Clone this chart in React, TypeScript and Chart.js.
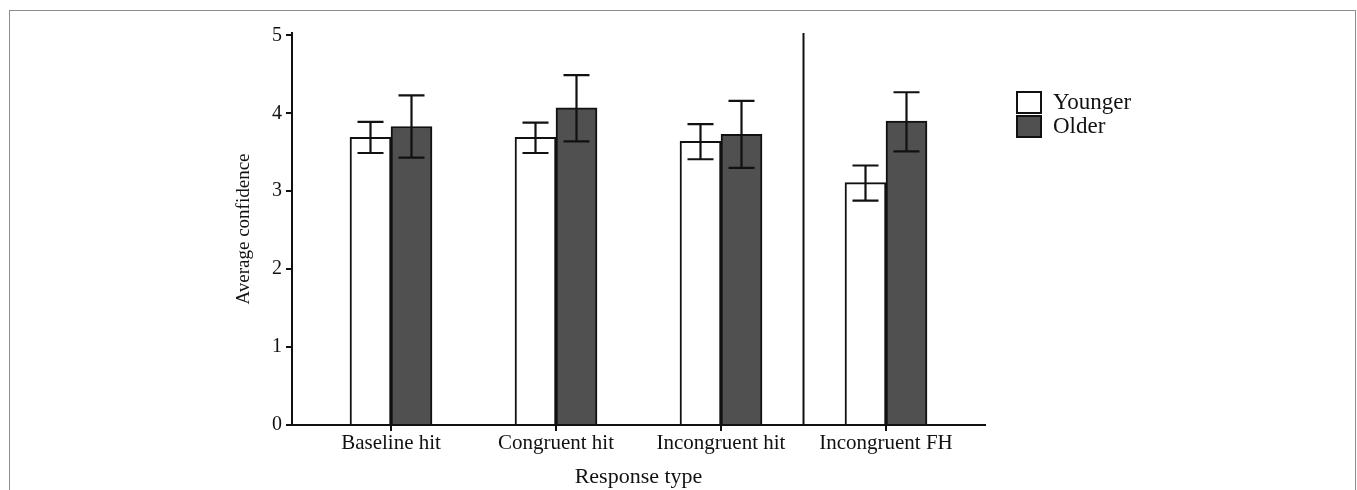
import React, { useEffect, useRef } from "react";
import { Chart, registerables } from "chart.js";

Chart.register(...registerables);

const categories = ["Baseline hit", "Congruent hit", "Incongruent hit", "Incongruent FH"];
const categoryPositions = [1, 2, 3, 4];
const youngerMeans = [3.69, 3.69, 3.64, 3.11];
const youngerLow = [3.49, 3.49, 3.41, 2.88];
const youngerHigh = [3.89, 3.88, 3.86, 3.33];
const olderMeans = [3.83, 4.07, 3.73, 3.90];
const olderLow = [3.43, 3.64, 3.30, 3.51];
const olderHigh = [4.23, 4.49, 4.16, 4.27];
const yTicks = [0, 1, 2, 3, 4, 5];
const separatorAfter = 3.5;
const seriesLabels = ["Younger", "Older"];

const FONT = '"Liberation Serif", "Times New Roman", serif';

const errorBarPlugin = {
  id: "errorBars",
  afterDatasetsDraw(chart: any) {
    const ctx = chart.ctx;
    const yScale = chart.scales.y;
    const lows = [youngerLow, olderLow];
    const highs = [youngerHigh, olderHigh];
    ctx.save();
    ctx.strokeStyle = "#111";
    ctx.lineWidth = 2.2;
    chart.data.datasets.forEach((_ds: any, di: number) => {
      const meta = chart.getDatasetMeta(di);
      meta.data.forEach((bar: any, i: number) => {
        const x = bar.x;
        const yl = yScale.getPixelForValue(lows[di][i]);
        const yh = yScale.getPixelForValue(highs[di][i]);
        const cap = 13;
        ctx.beginPath();
        ctx.moveTo(x, yl);
        ctx.lineTo(x, yh);
        ctx.moveTo(x - cap, yl);
        ctx.lineTo(x + cap, yl);
        ctx.moveTo(x - cap, yh);
        ctx.lineTo(x + cap, yh);
        ctx.stroke();
      });
    });
    const xs = chart.scales.x.getPixelForValue(separatorAfter);
    ctx.lineWidth = 2;
    ctx.beginPath();
    ctx.moveTo(xs, chart.chartArea.top);
    ctx.lineTo(xs, chart.chartArea.bottom);
    ctx.stroke();
    ctx.restore();
  },
};

const legendPlugin = {
  id: "customLegend",
  afterDraw(chart: any) {
    const ctx = chart.ctx;
    ctx.save();
    const left = 1017;
    const top = 92;
    const w = 24;
    const h = 21;
    const gap = 3;
    chart.data.datasets.forEach((ds: any, i: number) => {
      const y = top + i * (h + gap);
      ctx.fillStyle = ds.backgroundColor;
      ctx.fillRect(left, y, w, h);
      ctx.strokeStyle = "#111";
      ctx.lineWidth = 2;
      ctx.strokeRect(left, y, w, h);
      ctx.fillStyle = "#111";
      ctx.font = `23px ${FONT}`;
      ctx.textBaseline = "middle";
      ctx.textAlign = "left";
      ctx.fillText(ds.label, left + 36, y + h / 2);
    });
    ctx.restore();
  },
};

export default function App() {
  const ref = useRef<HTMLCanvasElement>(null);

  useEffect(() => {
    if (!ref.current) return;
    const chart = new Chart(ref.current, {
      type: "bar",
      data: {
        datasets: [
          {
            label: seriesLabels[0],
            data: categoryPositions.map((x, i) => ({ x, y: youngerMeans[i] })),
            backgroundColor: "#ffffff",
            borderColor: "#111",
            borderWidth: 2,
            barThickness: 41,
          },
          {
            label: seriesLabels[1],
            data: categoryPositions.map((x, i) => ({ x, y: olderMeans[i] })),
            backgroundColor: "#505050",
            borderColor: "#111",
            borderWidth: 2,
            barThickness: 41,
          },
        ],
      },
      options: {
        responsive: false,
        animation: false,
        layout: { padding: { left: 233, right: 372, top: 33, bottom: 0 } },
        plugins: {
          legend: { display: false },
          tooltip: { enabled: false },
        },
        scales: {
          x: {
            type: "linear",
            min: 0.4,
            max: 4.6,
            offset: false,
            afterBuildTicks(scale: any) {
              scale.ticks = categoryPositions.map((v) => ({ value: v }));
            },
            afterFit(scale: any) {
              scale.height = 65;
            },
            grid: {
              offset: false,
              drawOnChartArea: false,
              drawTicks: true,
              tickLength: 6,
              color: "#111",
              lineWidth: 2,
            },
            border: { display: true, color: "#111", width: 2 },
            ticks: {
              color: "#111",
              font: { family: FONT, size: 21 },
              padding: 0,
              maxRotation: 0,
              autoSkip: false,
              callback: (v: any) => {
                const idx = categoryPositions.indexOf(Number(v));
                return idx >= 0 ? categories[idx] : "";
              },
            },
            title: {
              display: true,
              text: "Response type",
              color: "#111",
              font: { family: FONT, size: 22 },
              padding: { top: 6, bottom: 0 },
            },
          },
          y: {
            min: 0,
            max: 5.03,
            afterBuildTicks(scale: any) {
              scale.ticks = yTicks.map((v) => ({ value: v }));
            },
            afterFit(scale: any) {
              scale.width = 59;
            },
            grid: {
              drawOnChartArea: false,
              drawTicks: true,
              tickLength: 6,
              color: "#111",
              lineWidth: 2,
            },
            border: { display: true, color: "#111", width: 2 },
            ticks: {
              color: "#111",
              font: { family: FONT, size: 20 },
              padding: 4,
            },
            title: {
              display: true,
              text: "Average confidence",
              color: "#111",
              font: { family: FONT, size: 19 },
              padding: { top: 0, bottom: 4 },
            },
          },
        },
      },
      plugins: [errorBarPlugin, legendPlugin],
    });
    return () => chart.destroy();
  }, []);

  return (
    <div style={{ position: "absolute", left: 0, top: 0, width: 1357, height: 490, overflow: "hidden", background: "#fff" }}>
      <div
        style={{
          position: "absolute",
          left: 9,
          top: 10,
          width: 1345,
          height: 520,
          border: "1px solid #8c8c8c",
        }}
      />
      <canvas ref={ref} width={1357} height={490} style={{ position: "absolute", left: 0, top: 0, width: 1357, height: 490 }} />
    </div>
  );
}
